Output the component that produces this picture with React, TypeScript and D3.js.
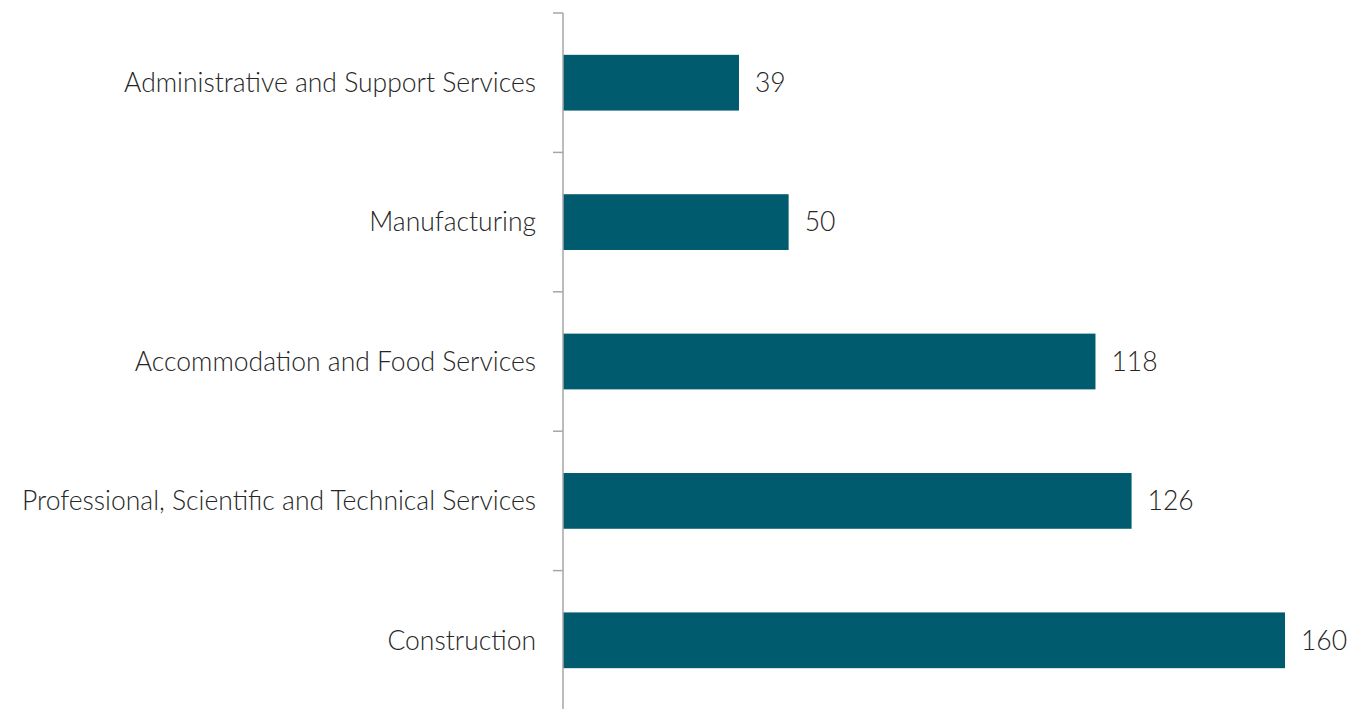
import React from "react";
import * as d3 from "d3";

const categories = [
  "Administrative and Support Services",
  "Manufacturing",
  "Accommodation and Food Services",
  "Professional, Scientific and Technical Services",
  "Construction",
];
const values = [39, 50, 118, 126, 160];

const W = 1354;
const H = 709;
const x0 = 563;
const FONT = "Lato, 'Open Sans', sans-serif";

export default function App() {
  const x = d3.scaleLinear().domain([0, 160]).range([x0, 1285]);
  const y = d3.scaleBand<string>().domain(categories).range([13, 710]).paddingInner(0.6).paddingOuter(0.3);
  const step = y.step();
  const tickYs = d3.range(categories.length + 1).map((i) => 13 + i * step);
  return (
    <svg width={W} height={H} style={{ position: "absolute", left: 0, top: 0, background: "#fff" }}>
      {categories.map((c, i) => (
        <g key={c}>
          <rect x={x(0)} y={y(c)} width={x(values[i]) - x(0)} height={y.bandwidth()} fill="#005b6f" />
          <text x={x0 - 27} y={(y(c) as number) + y.bandwidth() / 2} dy="0.35em" textAnchor="end"
            fontFamily={FONT} fontWeight={300} fontSize={26.5} fill="#262626">{c}</text>
          <text x={x(values[i]) + 16} y={(y(c) as number) + y.bandwidth() / 2} dy="0.35em"
            fontFamily={FONT} fontWeight={300} fontSize={26.5} fill="#262626">{values[i]}</text>
        </g>
      ))}
      <line x1={x0} x2={x0} y1={13} y2={H} stroke="#a6a6a6" strokeWidth={1.5} />
      {tickYs.map((t, i) => (
        <line key={i} x1={x0 - 10} x2={x0} y1={t} y2={t} stroke="#a6a6a6" strokeWidth={1.5} />
      ))}
    </svg>
  );
}
